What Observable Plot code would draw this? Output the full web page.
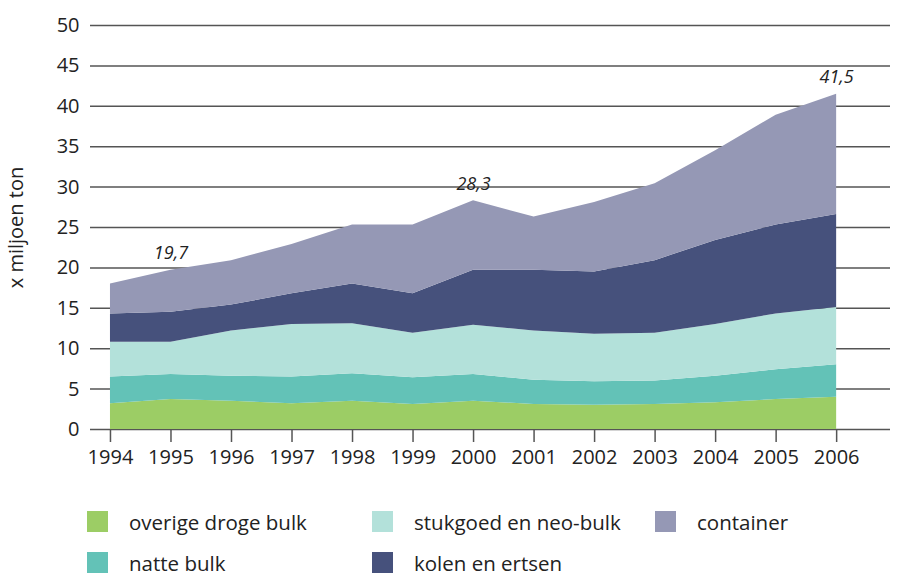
<!DOCTYPE html>
<html>
<head>
<meta charset="utf-8">
<script src="https://cdn.jsdelivr.net/npm/d3@7"></script>
<script src="https://cdn.jsdelivr.net/npm/@observablehq/plot@0.6"></script>
<style>
  body { margin: 0; background: #fff; font-family: "Open Sans", sans-serif; color: #222; }
  #chart svg { display: block; }
  .legend { position: relative; height: 85px; font-size: 20.5px; }
  .item { position: absolute; display: flex; align-items: center; height: 21px; }
  .swatch { width: 21px; height: 21px; margin-right: 21px; flex: none; }
</style>
</head>
<body>
<div id="chart"></div>
<div class="legend" id="legend"></div>
<script>
// Goederenoverslag per ladingsoort, x miljoen ton
const years = [1994, 1995, 1996, 1997, 1998, 1999, 2000, 2001, 2002, 2003, 2004, 2005, 2006];
const series = ["overige droge bulk", "natte bulk", "stukgoed en neo-bulk", "kolen en ertsen", "container"];
const colors = ["#9ccd65", "#63c2b7", "#b3e1da", "#46517c", "#9598b5"];

const overigeDrogeBulk = [3.2, 3.7, 3.5, 3.2, 3.5, 3.1, 3.5, 3.1, 3.0, 3.1, 3.3, 3.7, 4.0];
const natteBulk        = [3.3, 3.1, 3.1, 3.3, 3.4, 3.3, 3.3, 3.0, 2.9, 2.9, 3.3, 3.7, 4.0];
const stukgoed         = [4.3, 4.0, 5.6, 6.5, 6.2, 5.5, 6.1, 6.1, 5.9, 5.9, 6.4, 6.9, 7.1];
const kolenErtsen      = [3.5, 3.7, 3.2, 3.8, 4.9, 4.9, 6.8, 7.5, 7.7, 9.0, 10.4, 11.0, 11.5];
const container        = [3.7, 5.2, 5.5, 6.1, 7.3, 8.5, 8.6, 6.6, 8.6, 9.5, 11.1, 13.6, 14.9];

const yTicks = [0, 5, 10, 15, 20, 25, 30, 35, 40, 45, 50];
const labelYears = [1995, 2000, 2006];

const values = [overigeDrogeBulk, natteBulk, stukgoed, kolenErtsen, container];
const rows = series.flatMap((s, i) => years.map((year, j) => ({year, series: s, value: values[i][j]})));
const totals = years.map((year, j) => ({year, total: values.reduce((a, v) => a + v[j], 0)}));
const labelled = totals.filter(d => labelYears.includes(d.year));

const chart = Plot.plot({
  width: 921,
  height: 490,
  marginTop: 25,
  marginBottom: 61,
  marginLeft: 90,
  marginRight: 31,
  style: {fontFamily: "Open Sans, sans-serif", fontSize: "20px", color: "#222"},
  x: {domain: [years[0] - 0.33, years[years.length - 1] + 0.89], ticks: years, tickFormat: d => String(d)},
  y: {domain: [0, 50]},
  color: {domain: series, range: colors},
  marks: [
    Plot.ruleY(yTicks, {stroke: "#555", strokeWidth: 1.5}),
    Plot.areaY(rows, {x: "year", y: "value", fill: "series", order: series}),
    Plot.axisX({ticks: years, tickFormat: d => String(d), tickSize: 13, tickPadding: 7, stroke: "#555", strokeWidth: 1.5, label: null}),
    Plot.axisY({ticks: yTicks, tickSize: 0, tickPadding: 11, label: "x miljoen ton", labelAnchor: "center", labelArrow: "none", labelOffset: 82, fontSize: 20}),
    Plot.text(labelled, {x: "year", y: "total", text: d => d.total.toFixed(1).replace(".", ","), dy: -17, fontStyle: "italic", fontSize: 18, fill: "#222"})
  ]
});
document.getElementById("chart").append(chart);

// Legend below the chart: three columns, two rows
const legendPos = [[87, 21], [87, 62], [372, 21], [372, 62], [655, 21]];
const legend = document.getElementById("legend");
series.forEach((s, i) => {
  const item = document.createElement("div");
  item.className = "item";
  item.style.left = legendPos[i][0] + "px";
  item.style.top = legendPos[i][1] + "px";
  const sw = document.createElement("span");
  sw.className = "swatch";
  sw.style.background = colors[i];
  const label = document.createElement("span");
  label.textContent = s;
  item.append(sw, label);
  legend.append(item);
});
</script>
</body>
</html>
